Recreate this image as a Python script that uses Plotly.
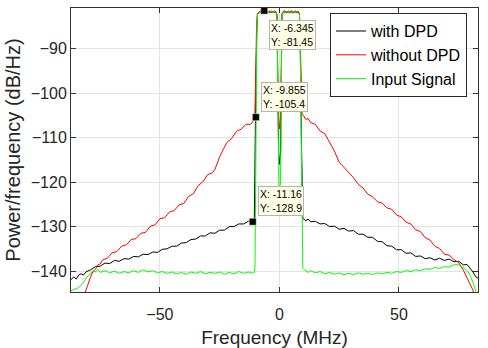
import plotly.graph_objects as go

# ---------------- data ----------------
freq_with_dpd = [-87.2, -86, -85, -84, -83, -82, -81, -79, -77, -75, -73, -71, -69, -67, -65, -63, -61, -59, -57, -55,
                 -53, -51, -49, -47, -45, -43, -41, -39, -37, -35, -33, -31, -29, -27, -25, -23, -21, -19, -17, -15,
                 -13, -11.16, -10.5, -10.25, -10.0, -9.6, -9.2, -8.5, -7.8, -7.0, -6.3, -5.6, -5.0, -4.2, -3.5, -2.8,
                 -2.0, -1.4, -1.0, -0.7, -0.3, 0.1, 0.5, 0.8, 1.05, 1.6, 2.3, 3.0, 3.7, 4.4, 5.1, 5.8, 6.5, 7.2, 7.9,
                 8.4, 8.8, 9.2, 9.5, 9.8, 10.5, 11, 12, 13, 15, 17, 19, 21, 23, 25, 27, 29, 31, 33, 35, 37, 39, 41,
                 43, 45, 47, 49, 51, 53, 55, 57, 59, 61, 63, 65, 67, 69, 71, 73, 75, 77, 78.5, 80, 81, 82, 83.1]
psd_with_dpd = [-141.9, -141.3, -141.8, -140.9, -140.6, -140.9, -140.2, -139.7, -139.0, -138.9, -138.2, -138.3, -137.6,
                -137.8, -137.2, -137.3, -136.7, -136.8, -136.2, -136.3, -135.7, -135.8, -135.1, -135.0, -134.4, -134.4,
                -133.7, -133.6, -132.9, -132.8, -132.1, -132.1, -131.4, -131.5, -130.8, -130.8, -130.0, -130.0, -129.4,
                -129.4, -128.8, -128.9, -128.6, -115.0, -100.0, -86.0, -82.3, -81.8, -81.9, -81.7, -81.8, -81.7, -81.9,
                -81.8, -81.9, -81.7, -81.9, -81.8, -82.4, -100.0, -114.0, -116.0, -113.0, -97.0, -82.3, -81.9, -81.7,
                -81.9, -81.8, -81.9, -81.7, -81.9, -81.8, -81.9, -81.8, -82.3, -92.0, -110.0, -124.0, -128.2, -128.4,
                -128.7, -128.3, -128.9, -128.8, -129.4, -129.3, -130.0, -129.9, -130.6, -130.4, -131.0, -130.9, -131.7,
                -131.7, -132.4, -132.4, -133.3, -133.4, -134.3, -134.4, -135.2, -135.2, -136.0, -135.9, -136.7, -136.6,
                -137.2, -137.0, -137.5, -137.1, -137.6, -137.3, -137.9, -137.8, -138.6, -138.5, -139.5, -140.2, -141.2,
                -141.6]

freq_without_dpd = [-84, -83, -82, -81, -80, -79, -78, -77, -76, -75, -74, -72, -70, -68, -66, -64, -62, -60, -58, -56,
                    -54, -52, -50, -48, -46, -44, -42, -40, -38, -36, -34, -32, -30, -28, -27, -26, -25, -24, -22, -20,
                    -18, -16, -14, -12, -11, -10.3, -10.0, -9.6, -9.2, -8.5, -7.8, -7.0, -6.3, -5.6, -5.0, -4.2, -3.5,
                    -2.8, -2.0, -1.4, -1.0, -0.7, -0.3, 0.1, 0.5, 0.8, 1.05, 1.6, 2.3, 3.0, 3.7, 4.4, 5.1, 5.8, 6.5,
                    7.2, 7.9, 8.4, 8.8, 9.2, 9.5, 10, 11, 12, 13, 15, 17, 19, 21, 23, 25, 27, 29, 31, 33, 35, 37, 39,
                    41, 43, 45, 47, 49, 51, 53, 55, 57, 59, 61, 63, 65, 67, 69, 71, 73, 75, 77, 79, 80, 81, 82, 83.1]
psd_without_dpd = [-149.0, -147.5, -145.8, -144.0, -142.6, -141.3, -140.1, -139.6, -138.6, -138.4, -137.5, -137.1,
                   -135.9, -135.6, -134.4, -134.1, -132.9, -132.7, -131.5, -131.3, -129.9, -129.6, -128.2, -128.0,
                   -126.7, -126.4, -125.1, -124.8, -123.2, -122.6, -120.8, -119.9, -118.3, -117.9, -117.2, -115.6,
                   -114.3, -113.2, -111.1, -110.2, -108.6, -108.1, -107.0, -107.0, -106.2, -105.8, -98.0, -86.0, -82.1,
                   -81.7, -81.5, -81.8, -81.6, -81.5, -81.8, -81.6, -81.5, -81.8, -81.5, -81.7, -82.5, -96.0, -106.0,
                   -108.0, -105.0, -94.0, -82.2, -81.6, -81.5, -81.8, -81.5, -81.7, -81.5, -81.8, -81.5, -81.7, -81.6,
                   -82.2, -90.0, -100.0, -104.6, -105.0, -105.9, -105.7, -106.6, -107.0, -108.5, -109.1, -111.0,
                   -113.0, -115.5, -116.6, -117.9, -119.0, -120.5, -121.3, -122.7, -123.3, -124.4, -124.7, -125.8,
                   -126.1, -127.4, -127.8, -129.0, -129.4, -130.7, -131.1, -132.5, -133.0, -134.4, -134.9, -136.2,
                   -136.4, -137.4, -138.1, -139.8, -141.9, -143.0, -144.3, -146.4, -148.5]

freq_input = [-87.2, -86, -85, -84, -83, -82, -81, -80, -79, -78, -77, -76, -75, -73, -71, -69, -67, -65, -63, -61,
              -59, -57, -55, -53, -51, -49, -47, -45, -43, -41, -39, -37, -35, -33, -31, -29, -27, -25, -23, -21,
              -19, -17, -15, -13, -11, -10.4, -10.2, -10.05, -9.855, -9.65, -9.4, -9.1, -8.5, -7.8, -7.0, -6.345,
              -5.6, -5.0, -4.2, -3.5, -2.8, -2.0, -1.4, -1.0, -0.75, -0.45, -0.2, 0.1, 0.4, 0.65, 0.85, 1.05, 1.6,
              2.3, 3.0, 3.7, 4.4, 5.1, 5.8, 6.5, 7.2, 7.9, 8.4, 8.7, 9.0, 9.3, 9.55, 9.8, 10.2, 11, 12, 13, 15, 17,
              19, 21, 23, 25, 27, 29, 31, 33, 35, 37, 39, 41, 43, 45, 47, 49, 51, 53, 55, 57, 59, 61, 63, 65, 67,
              69, 71, 73, 74.5, 76, 77.5, 79, 80, 81, 82, 83.1]
psd_input = [-144.4, -144.1, -143.9, -143.7, -143.2, -142.5, -141.8, -141.0, -140.6, -139.9, -140.2, -139.6, -140.3,
             -139.9, -140.4, -140.0, -140.5, -140.1, -140.4, -139.9, -140.3, -139.7, -140.2, -139.9, -140.4, -140.1,
             -140.5, -140.2, -140.6, -140.3, -140.7, -140.2, -140.5, -140.1, -140.6, -140.3, -140.5, -140.2, -140.7,
             -140.3, -140.6, -140.1, -140.5, -140.2, -140.5, -140.1, -138.5, -125.0, -105.4, -92.0, -84.0, -82.2,
             -81.9, -81.7, -81.9, -81.45, -81.9, -81.6, -82.0, -81.7, -81.9, -81.6, -82.0, -82.3, -98.0, -118.0,
             -120.8, -121.0, -120.6, -112.0, -95.0, -82.4, -81.8, -82.0, -81.6, -81.9, -81.7, -82.0, -81.6, -81.9,
             -81.7, -82.0, -82.3, -90.0, -106.0, -126.0, -137.5, -139.4, -139.6, -139.9, -140.3, -139.9, -140.4,
             -140.1, -140.6, -140.3, -140.7, -140.4, -140.8, -140.5, -140.8, -140.4, -140.7, -140.5, -140.8, -140.4,
             -140.6, -140.3, -140.5, -140.1, -140.3, -139.9, -140.1, -139.7, -139.9, -139.5, -139.6, -139.2, -139.4,
             -139.0, -139.1, -138.6, -138.5, -138.9, -139.4, -140.2, -141.2, -142.6, -144.2, -146.0]

tip_x = [-6.345, -9.855, -11.16]
tip_y = [-81.45, -105.4, -128.9]

series_names = ["with DPD", "without DPD", "Input Signal"]
x_ticks = [-50, 0, 50]
y_ticks = [-140, -130, -120, -110, -100, -90]

# ---------------- figure ----------------
FONT = "Liberation Sans, Arial, Helvetica, sans-serif"
TXT = "#262626"

fig = go.Figure()
fig.add_trace(go.Scatter(x=freq_with_dpd, y=psd_with_dpd, mode="lines", name=series_names[0],
                         line=dict(color="#000000", width=1)))
fig.add_trace(go.Scatter(x=freq_without_dpd, y=psd_without_dpd, mode="lines", name=series_names[1],
                         line=dict(color="#ff0000", width=1)))
fig.add_trace(go.Scatter(x=freq_input, y=psd_input, mode="lines", name=series_names[2],
                         line=dict(color="#00ff00", width=1)))
fig.add_trace(go.Scatter(x=tip_x, y=tip_y, mode="markers", showlegend=False, cliponaxis=False,
                         marker=dict(symbol="square", size=7, color="#000000",
                                     line=dict(color="#ffffff", width=0.5))))

anchors = [("top", -9), ("bottom", 5), ("bottom", 6)]
for (xv, yv), (ya, ys) in zip(zip(tip_x, tip_y), anchors):
    fig.add_annotation(x=xv, y=yv, xref="x", yref="y", showarrow=False,
                       text=f"X: {xv}<br>Y: {yv}", align="left",
                       xanchor="left", yanchor=ya, xshift=5, yshift=ys,
                       font=dict(family=FONT, size=10.5, color="#000000"),
                       bgcolor="#ffffe6", bordercolor="#b4b4b4", borderwidth=1, borderpad=1)

axis_common = dict(showline=True, linecolor="#333333", linewidth=1, mirror="allticks",
                   ticks="inside", ticklen=5, tickcolor="#333333", automargin=False,
                   showgrid=True, gridcolor="#e3e3e3", gridwidth=1, zeroline=False,
                   tickfont=dict(family=FONT, size=16, color=TXT))

fig.update_xaxes(range=[-87.2, 83.1], tickvals=x_ticks, ticklabelstandoff=8,
                 title=dict(text="Frequency (MHz)", font=dict(family=FONT, size=19, color=TXT), standoff=11),
                 **axis_common)
fig.update_yaxes(range=[-144.7, -80.85], tickvals=y_ticks,
                 title=dict(text="Power/frequency (dB/Hz)", font=dict(family=FONT, size=20, color=TXT), standoff=4),
                 **axis_common)

fig.update_layout(
    width=488, height=348,
    margin=dict(l=71, r=10, t=8, b=56, pad=0, autoexpand=False),
    paper_bgcolor="#ffffff", plot_bgcolor="#ffffff",
    showlegend=True,
    legend=dict(x=0.973, y=0.982, xanchor="right", yanchor="top",
                bgcolor="#ffffff", bordercolor="#262626", borderwidth=1,
                font=dict(family=FONT, size=16, color="#000000"),
                tracegroupgap=0, itemwidth=30),
    font=dict(family=FONT, color=TXT),
)

fig.write_html("out.html")
